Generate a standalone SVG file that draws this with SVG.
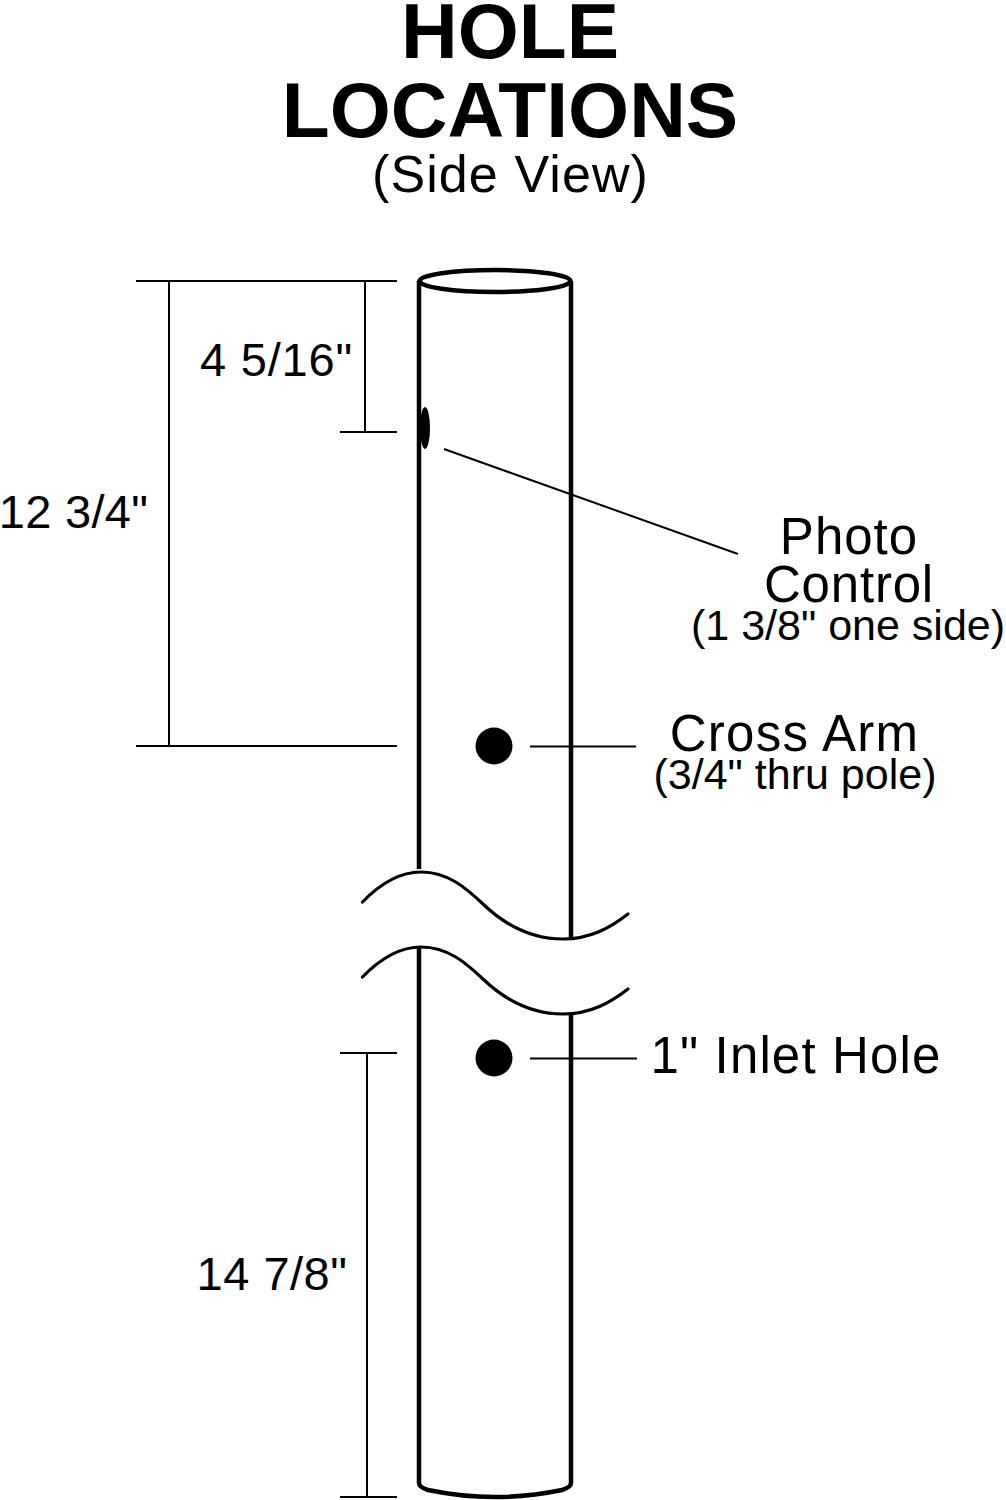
<svg xmlns="http://www.w3.org/2000/svg" width="1006" height="1500" viewBox="0 0 1006 1500">
<style>
text{font-family:"Liberation Sans",Arial,sans-serif;fill:#000;text-anchor:middle}
.t{font-weight:700;font-size:78.500px}
.l{font-size:51px}
.sv{font-size:52px;letter-spacing:1.100px}
.d{font-size:47px}
.s{font-size:43px}
.thin{fill:none;stroke:#000;stroke-width:2}
.pole{fill:none;stroke:#000;stroke-width:4.500;stroke-linejoin:round}
.wave{fill:none;stroke:#000;stroke-width:3.200;stroke-linecap:round}
</style>
<rect width="1006" height="1500" fill="#fff"/>
<g id="title"><text class="t" x="510" y="58">HOLE</text><text class="t" x="510" y="136.500">LOCATIONS</text><text class="sv" x="510.500" y="191.500">(Side View)</text></g>
<g id="pole">
<g class="pole">
<ellipse cx="495" cy="281" rx="75.500" ry="11"/>
<path d="M419 281V869M571 281V939M419 947V1483Q419 1487 428 1490Q495 1504 562 1490Q571 1487 571 1483V1014"/>
</g>
<g class="wave">
<path d="M362.500 902C378 886 398 872 421 872C448 872 466 888 483 904C508 928 535 939 563 939C590 939 610 928 628 914"/>
<path d="M362.500 977C378 961 398 947 421 947C448 947 466 963 483 979C508 1003 535 1014 563 1014C590 1014 610 1003 628 989"/>
</g>
</g>
<g id="holes">
<ellipse cx="425" cy="428" rx="5" ry="21"/>
<circle cx="494" cy="746" r="18.500"/>
<circle cx="494" cy="1058" r="18.500"/>
</g>
<g id="connectors" class="thin">
<path d="M136 281H397M169 281V746M136 746H397M365 281V432M340 432H397M444 449L738 554M530 746.500H636M340 1053H397M367 1053V1497M340 1497H397M530 1058.500H637"/>
</g>
<g id="labels">
<text class="d" x="276.500" y="376" style="letter-spacing:.8px">4 5/16"</text>
<text class="d" x="73.500" y="528" style="letter-spacing:.3px">12 3/4"</text>
<text class="d" x="272" y="1290" style="letter-spacing:.5px">14 7/8"</text>
<text class="l" x="849" y="553.500" style="letter-spacing:1px">Photo</text>
<text class="l" x="849" y="602" style="letter-spacing:.8px">Control</text>
<text class="s" x="848" y="640">(1 3/8" one side)</text>
<text class="l" x="794.500" y="751" style="letter-spacing:1.300px">Cross Arm</text>
<text class="s" x="795" y="789">(3/4" thru pole)</text>
<text class="l" x="796" y="1073" style="letter-spacing:1.150px">1" Inlet Hole</text>
</g>
</svg>
